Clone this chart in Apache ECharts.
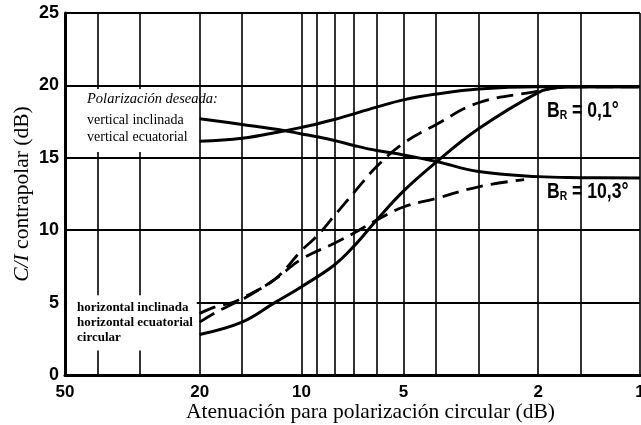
<!DOCTYPE html>
<html lang="es">
<head>
<meta charset="UTF-8">
<title>C/I contrapolar</title>
<script src="https://cdn.jsdelivr.net/npm/echarts@6.0.0/dist/echarts.min.js"></script>
<style>
  html, body { margin: 0; padding: 0; background: #fff; }
  #chart { width: 641px; height: 425px; }
</style>
</head>
<body>
<div id="chart"></div>
<script>
// atenuación (dB) y C/I (dB)
var xTicks = [1, 1.5, 2, 3, 4, 5, 6, 7, 8, 9, 10, 15, 20, 30, 40, 50];
var xLabels = [1, 2, 5, 10, 20, 50];

var vertInclX = [20, 15, 11.2, 10, 9, 8, 7, 6, 5, 4, 3, 2, 1.5, 1];
var vertInclY = [17.7, 17.3, 16.87, 16.65, 16.45, 16.2, 15.85, 15.5, 15.2, 14.75, 14.05, 13.7, 13.63, 13.6];

var vertEcuX = [20, 15, 11.2, 10, 8, 6, 5, 4, 3, 2, 1.5, 1];
var vertEcuY = [16.15, 16.35, 16.87, 17.1, 17.65, 18.5, 19.0, 19.4, 19.75, 19.9, 19.9, 19.9];

var circX = [20, 15, 12, 10, 8, 7, 6, 5, 4, 3, 2, 1.75, 1.5, 1];
var circY = [2.8, 3.65, 5.0, 6.1, 7.6, 8.9, 10.7, 12.7, 14.7, 17.0, 19.5, 19.85, 19.9, 19.9];

var horIncX = [20, 18, 16, 15, 12, 10, 9, 8, 7, 6, 5, 4, 3, 2, 1.75, 1.5, 1];
var horIncY = [4.25, 4.7, 5.0, 5.3, 6.6, 8.6, 9.6, 11.0, 12.6, 14.4, 16.0, 17.3, 18.8, 19.6, 19.85, 19.9, 19.9];

var horEcuX = [20, 18, 16, 15, 12, 10, 8, 7, 6, 5, 4, 3, 2.2];
var horEcuY = [3.65, 4.3, 4.9, 5.2, 6.6, 8.0, 9.1, 9.8, 10.7, 11.6, 12.2, 13.0, 13.5];

function pairs(xs, ys) {
  return xs.map(function (x, i) { return [x, ys[i]]; });
}

var chart = echarts.init(document.getElementById('chart'));

var solid = { color: '#000', width: 3 };
var dashed = { color: '#000', width: 2.8, type: [17, 8] };

function brLabel(txt, top) {
  return {
    type: 'text', left: 547, top: top, z: 100, scaleX: 0.8,
    style: {
      text: '{b|B}{r|R}{t| = ' + txt + '}',
      rich: {
        b: { font: 'bold 22px "Liberation Sans"', fill: '#000' },
        r: { font: 'bold 13px "Liberation Sans"', fill: '#000', verticalAlign: 'bottom', padding: [7, 0, 0, 0] },
        t: { font: 'bold 22px "Liberation Sans"', fill: '#000' }
      }
    }
  };
}

var option = {
  backgroundColor: '#fff',
  animation: false,
  grid: { left: 65, right: 1, top: 13, bottom: 50, outerBoundsMode: 'none', containLabel: false },
  xAxis: {
    type: 'log',
    logBase: 10,
    min: 1,
    max: 50,
    inverse: true,
    name: 'Atenuación para polarización circular (dB)',
    nameLocation: 'middle',
    nameGap: 26,
    nameMoveOverlap: false,
    nameTextStyle: { fontFamily: 'Liberation Serif', fontSize: 21.5, color: '#000', padding: [0, 0, 0, 36] },
    axisLine: { lineStyle: { color: '#000', width: 3 } },
    axisTick: { show: false, customValues: xTicks },
    axisLabel: {
      customValues: xLabels,
      color: '#000', fontFamily: 'Liberation Sans', fontWeight: 'bold', fontSize: 17, margin: 9,
      formatter: function (v) { return String(Math.round(v)); }
    },
    splitLine: { show: true, lineStyle: { color: '#000', width: 1.6 } },
    minorSplitLine: { show: false }
  },
  yAxis: {
    type: 'value',
    min: 0,
    max: 25,
    interval: 5,
    name: '{i|C/I} contrapolar (dB)',
    nameLocation: 'middle',
    nameRotate: 90,
    nameGap: 32,
    nameMoveOverlap: false,
    nameTextStyle: {
      fontFamily: 'Liberation Serif', fontSize: 21.5, color: '#000',
      rich: { i: { fontFamily: 'Liberation Serif', fontStyle: 'italic', fontSize: 21.5, color: '#000' } }
    },
    axisLine: { show: true, lineStyle: { color: '#000', width: 3 } },
    axisTick: { show: false },
    axisLabel: { color: '#000', fontFamily: 'Liberation Sans', fontWeight: 'bold', fontSize: 18, margin: 6 },
    splitLine: { show: true, lineStyle: { color: '#000', width: 2 } }
  },
  series: [
    {
      type: 'line', data: pairs(vertInclX, vertInclY), smooth: 0.4, symbol: 'none', lineStyle: solid,
      markArea: {
        silent: true,
        itemStyle: { color: '#fff', opacity: 1 },
        data: [
          [{ coord: [49.3, 19.75] }, { coord: [20.4, 15.4] }],
          [{ coord: [49.3, 5.5] }, { coord: [20.4, 1.7] }]
        ]
      }
    },
    { type: 'line', data: pairs(vertEcuX, vertEcuY), smooth: 0.4, symbol: 'none', lineStyle: solid },
    { type: 'line', data: pairs(circX, circY), smooth: 0.4, symbol: 'none', lineStyle: solid },
    { type: 'line', data: pairs(horIncX, horIncY), smooth: 0.4, symbol: 'none', lineStyle: dashed },
    { type: 'line', data: pairs(horEcuX, horEcuY), smooth: 0.4, symbol: 'none', lineStyle: dashed }
  ],
  graphic: [
    { type: 'text', left: 87, top: 92, z: 100, style: { text: 'Polarización deseada:', font: 'italic 14.5px "Liberation Serif"', fill: '#000' } },
    { type: 'text', left: 87, top: 113, z: 100, style: { text: 'vertical inclinada', font: '14px "Liberation Serif"', fill: '#000' } },
    { type: 'text', left: 87, top: 130, z: 100, style: { text: 'vertical ecuatorial', font: '14px "Liberation Serif"', fill: '#000' } },
    { type: 'text', left: 77, top: 301, z: 100, style: { text: 'horizontal inclinada', font: 'bold 13px "Liberation Serif"', fill: '#000' } },
    { type: 'text', left: 77, top: 316, z: 100, style: { text: 'horizontal ecuatorial', font: 'bold 13px "Liberation Serif"', fill: '#000' } },
    { type: 'text', left: 77, top: 331, z: 100, style: { text: 'circular', font: 'bold 13px "Liberation Serif"', fill: '#000' } },
    brLabel('0,1°', 100),
    brLabel('10,3°', 181)
  ]
};

chart.setOption(option);
</script>
</body>
</html>
